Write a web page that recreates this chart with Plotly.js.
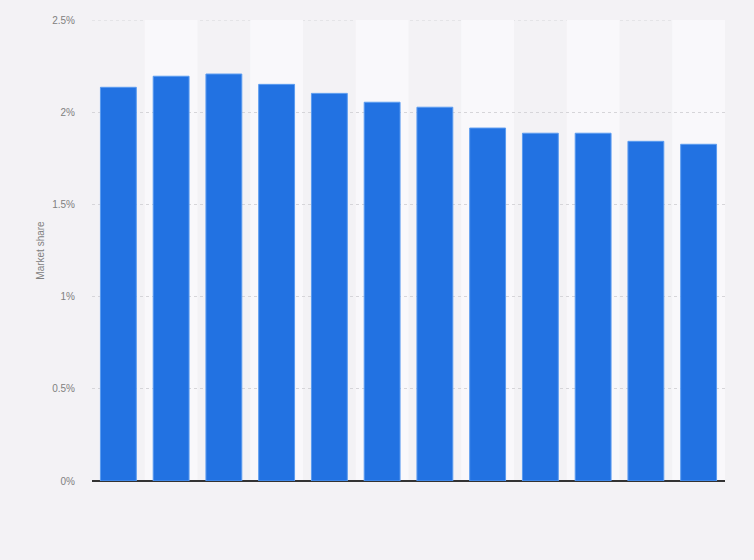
<!DOCTYPE html>
<html>
<head>
<meta charset="utf-8">
<script src="https://cdn.plot.ly/plotly-3.0.1.min.js"></script>
<style>
  html, body { margin: 0; padding: 0; background: #f3f2f5; }
  #chart { width: 754px; height: 560px; }
</style>
</head>
<body>
<div id="chart"></div>
<script>
// periods (labels are not shown on the chart)
var periods = ['1', '2', '3', '4', '5', '6', '7', '8', '9', '10', '11', '12'];
// market share in percent
var share = [2.135, 2.195, 2.207, 2.151, 2.102, 2.054, 2.027, 1.914, 1.886, 1.886, 1.842, 1.826];
var yTicks = [0, 0.5, 1, 1.5, 2, 2.5];
var yTickText = ['0%', '0.5%', '1%', '1.5%', '2%', '2.5%'];

// lighter column bands behind every second bar
var shapes = [];
for (var i = 1; i < periods.length; i += 2) {
  shapes.push({
    type: 'rect', layer: 'below', xref: 'x', yref: 'y',
    x0: i - 0.5, x1: i + 0.5, y0: 0, y1: 2.5,
    fillcolor: '#f9f8fb', line: {width: 0}
  });
}
// top gridline sits on the range edge, so draw it by hand
shapes.push({
  type: 'line', layer: 'below', xref: 'paper', yref: 'y',
  x0: 0, x1: 1, y0: 2.5, y1: 2.5,
  line: {color: '#d6d5d9', width: 1, dash: 'dot'}
});

var data = [{
  type: 'bar',
  x: periods,
  y: share,
  marker: {color: '#2272e2', line: {color: '#5b9cf0', width: 1}},
  hoverinfo: 'y'
}];

var layout = {
  width: 754,
  height: 560,
  margin: {l: 92, r: 29, t: 20, b: 79},
  paper_bgcolor: '#f3f2f5',
  plot_bgcolor: '#f3f2f5',
  bargap: 0.32,
  showlegend: false,
  font: {family: 'Liberation Sans, Arial, sans-serif', color: '#777'},
  xaxis: {
    type: 'category',
    showticklabels: false,
    showgrid: false,
    zeroline: false,
    showline: false,
    ticks: ''
  },
  yaxis: {
    range: [0, 2.5],
    tickvals: yTicks,
    ticktext: yTickText,
    tickfont: {size: 10, color: '#808080'},
    ticklabelstandoff: 16,
    showgrid: true,
    gridcolor: '#d6d5d9',
    griddash: 'dot',
    zeroline: true,
    zerolinecolor: '#333',
    zerolinewidth: 1.5,
    title: {text: 'Market share', font: {size: 10, color: '#808080'}, standoff: 5}
  },
  shapes: shapes
};

Plotly.newPlot('chart', data, layout, {displayModeBar: false, staticPlot: true});
</script>
</body>
</html>
